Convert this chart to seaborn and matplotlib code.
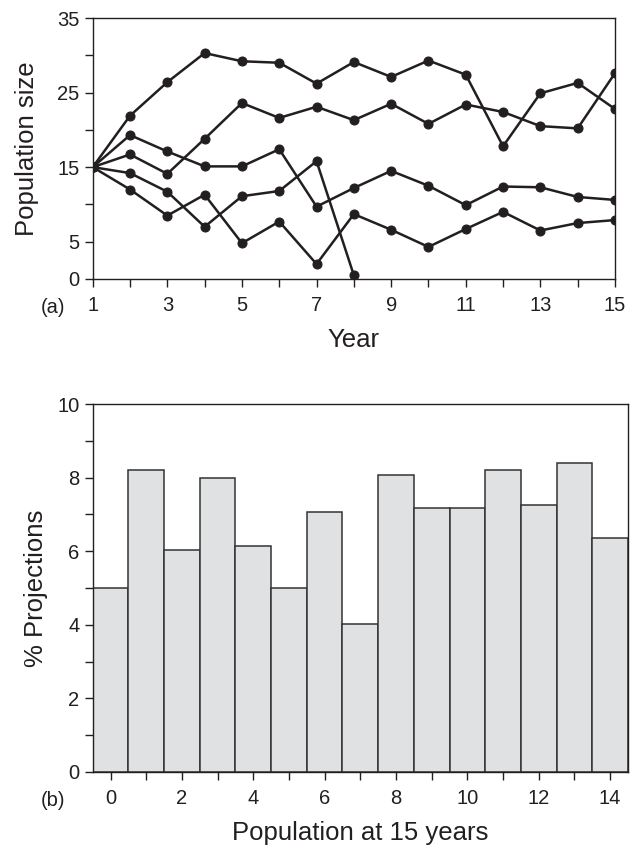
import matplotlib
matplotlib.use('Agg')
import matplotlib.pyplot as plt
import seaborn as sns
import pandas as pd

# ---- data ----
years = list(range(1, 16))
run_1 = [15, 21.9, 26.4, 30.3, 29.2, 29.0, 26.2, 29.1, 27.1, 29.3, 27.4, 17.8, 24.9, 26.3, 22.8]
run_2 = [15, 16.7, 14.1, 18.8, 23.6, 21.6, 23.1, 21.3, 23.5, 20.8, 23.4, 22.4, 20.5, 20.2, 27.6]
run_3 = [15, 19.3, 17.1, 15.1, 15.1, 17.4, 9.7, 12.2, 14.5, 12.5, 9.9, 12.4, 12.3, 11.0, 10.6]
run_4 = [15, 14.2, 11.7, 7.0, 11.1, 11.8, 15.8, 0.5]          # goes extinct in year 8
run_5 = [15, 12.0, 8.5, 11.3, 4.8, 7.7, 2.0, 8.7, 6.6, 4.3, 6.7, 9.0, 6.5, 7.5, 7.9]
runs = [run_1, run_2, run_3, run_4, run_5]

year_ticks = list(range(1, 16))
year_labels = [str(y) if y % 2 == 1 else '' for y in year_ticks]
size_ticks = [0, 5, 10, 15, 20, 25, 30, 35]
size_labels = ['0', '5', '', '15', '', '25', '', '35']

pop_at_15 = list(range(0, 15))
pct_projections = [5.0, 8.2, 6.03, 7.99, 6.13, 5.0, 7.07, 4.03, 8.07, 7.18, 7.18, 8.21, 7.25, 8.4, 6.35]
pop_labels = [str(p) if p % 2 == 0 else '' for p in pop_at_15]
pct_ticks = list(range(0, 11))
pct_labels = [str(p) if p % 2 == 0 else '' for p in pct_ticks]

rows = []
for i, r in enumerate(runs):
    for yr, val in zip(years, r):
        rows.append({'run': i, 'year': yr, 'size': val})
lines_df = pd.DataFrame(rows)
bars_df = pd.DataFrame({'pop': pop_at_15, 'pct': pct_projections})

# ---- style ----
sns.set_style('ticks')
plt.rcParams['font.family'] = ['Liberation Sans', 'DejaVu Sans']
INK = '#231f20'
TICK_FS = 14.5
LABEL_FS = 18.5

fig = plt.figure(figsize=(6.33, 8.5), dpi=100)
ax1 = fig.add_axes([0.1465, 0.6718, 0.825, 0.307])
ax2 = fig.add_axes([0.1465, 0.0918, 0.8455, 0.4329])

# (a) population trajectories
sns.lineplot(data=lines_df, x='year', y='size', units='run', estimator=None,
             color=INK, lw=1.8, marker='o', markersize=6.5, markeredgecolor=INK,
             sort=False, ax=ax1)
ax1.set_xlim(1, 15)
ax1.set_ylim(0, 35)
ax1.set_xticks(year_ticks)
ax1.set_xticklabels(year_labels)
ax1.set_yticks(size_ticks)
ax1.set_yticklabels(size_labels)
ax1.set_xlabel('Year', fontsize=LABEL_FS, labelpad=9)
ax1.set_ylabel('Population size', fontsize=LABEL_FS, labelpad=13)
ax1.text(-0.076, -0.111, '(a)', transform=ax1.transAxes, fontsize=TICK_FS,
         ha='center', va='center', color=INK)

# (b) distribution of final population size
sns.barplot(data=bars_df, x='pop', y='pct', width=1, color='#e0e1e3', saturation=1,
            edgecolor='#333333', linewidth=1.1, ax=ax2)
ax2.set_xlim(-0.5, 14.5)
ax2.set_ylim(0, 10)
ax2.set_xticks(range(len(pop_at_15)))
ax2.set_xticklabels(pop_labels)
ax2.set_yticks(pct_ticks)
ax2.set_yticklabels(pct_labels)
ax2.set_xlabel('Population at 15 years', fontsize=LABEL_FS, labelpad=9)
ax2.set_ylabel('% Projections', fontsize=LABEL_FS, labelpad=7)
ax2.text(-0.074, -0.078, '(b)', transform=ax2.transAxes, fontsize=TICK_FS,
         ha='center', va='center', color=INK)

for ax in (ax1, ax2):
    for sp in ax.spines.values():
        sp.set_visible(True)
        sp.set_color(INK)
        sp.set_linewidth(1.0)
    ax.tick_params(direction='out', length=5.5, width=1.0, colors=INK,
                   labelsize=TICK_FS)
    ax.tick_params(axis='x', pad=7)
    ax.tick_params(axis='y', pad=4)
    ax.xaxis.label.set_color(INK)
    ax.yaxis.label.set_color(INK)
    ax.grid(False)

fig.savefig('out.png', dpi=100, facecolor='white')
